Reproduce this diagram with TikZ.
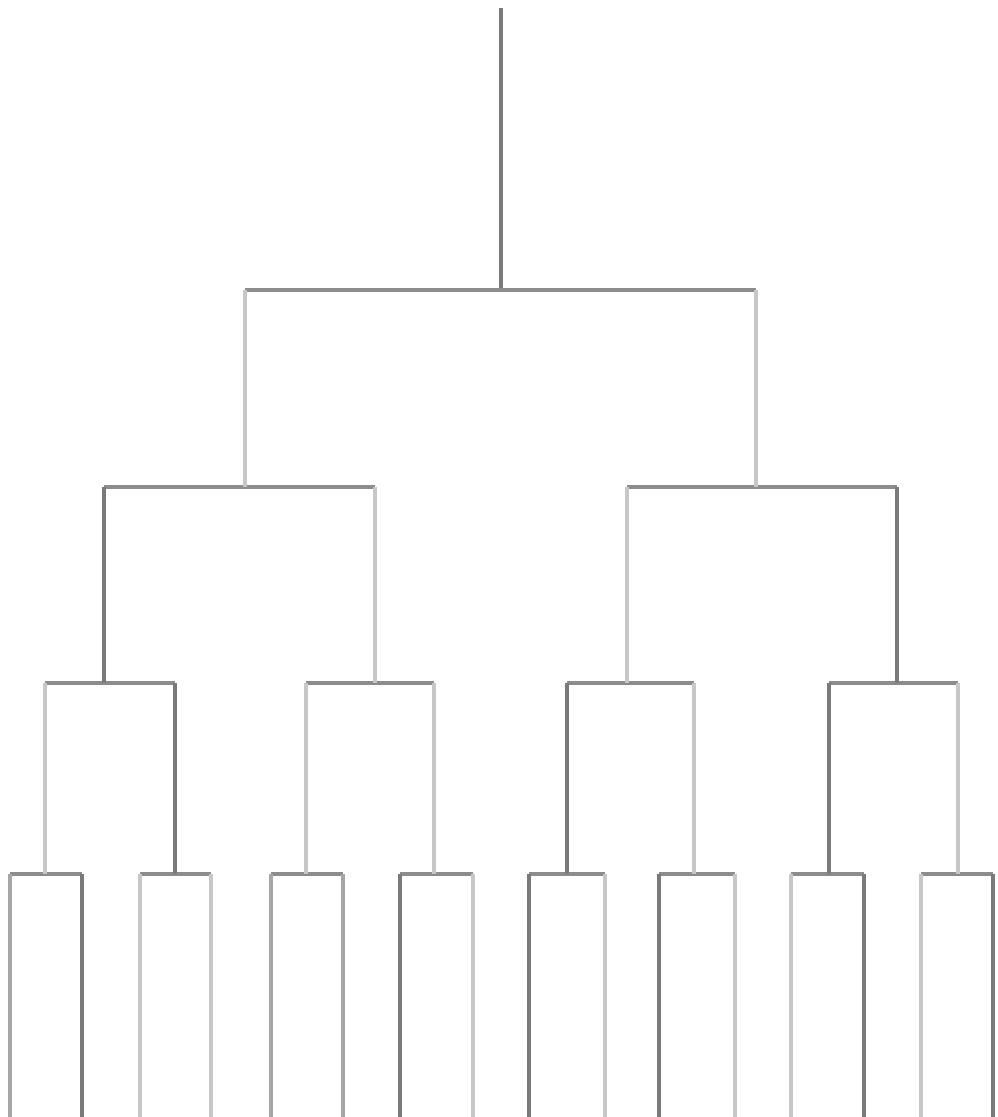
\documentclass[tikz,border=0pt]{standalone}
\usepackage{tikz}
\usetikzlibrary{calc}
\tikzset{
  hbar/.style={draw=black!45, line width=0.9pt},
  dk/.style={draw=black!52, line width=0.9pt},
  md/.style={draw=black!35, line width=0.9pt},
  lt/.style={draw=black!22, line width=0.9pt},
}
\begin{document}
\begin{tikzpicture}[x=0.01cm, y=-0.01cm]
\useasboundingbox (0,0) rectangle (998,1117);

% branch points
\coordinate (top) at (501,8);
\coordinate (r) at (501,290);
\coordinate (a) at (245,487);
\coordinate (b) at (756,487);
\coordinate (aa) at (104,683);
\coordinate (ab) at (375,683);
\coordinate (ba) at (627,683);
\coordinate (bb) at (897,683);
\coordinate (aaa) at (45,874);
\coordinate (aab) at (175,874);
\coordinate (aba) at (306,874);
\coordinate (abb) at (434,874);
\coordinate (baa) at (567,874);
\coordinate (bab) at (694,874);
\coordinate (bba) at (829,874);
\coordinate (bbb) at (958,874);

% leaves, at the bottom edge
\foreach \n/\x in {1/10, 2/82, 3/140, 4/211, 5/271, 6/343, 7/400, 8/473,
                   9/529, 10/605, 11/659, 12/735, 13/791, 14/864, 15/921, 16/993}
  \coordinate (l\n) at (\x,1117);

\draw[dk] (top) -- (r);

% horizontal bars
\foreach \p/\a/\b in {r/a/b, a/aa/ab, b/ba/bb,
                      aa/aaa/aab, ab/aba/abb, ba/baa/bab, bb/bba/bbb,
                      aaa/l1/l2, aab/l3/l4, aba/l5/l6, abb/l7/l8,
                      baa/l9/l10, bab/l11/l12, bba/l13/l14, bbb/l15/l16}
  \draw[hbar] (\a |- \p) -- (\b |- \p);

% vertical drops, each with its own shade
\foreach \c/\p/\s in {a/r/lt, b/r/lt,
                      aa/a/dk, ab/a/lt, ba/b/lt, bb/b/dk,
                      aaa/aa/lt, aab/aa/dk, aba/ab/lt, abb/ab/lt,
                      baa/ba/dk, bab/ba/lt, bba/bb/dk, bbb/bb/lt,
                      l1/aaa/md, l2/aaa/dk, l3/aab/lt, l4/aab/lt,
                      l5/aba/md, l6/aba/md, l7/abb/dk, l8/abb/lt,
                      l9/baa/dk, l10/baa/lt, l11/bab/dk, l12/bab/lt,
                      l13/bba/lt, l14/bba/dk, l15/bbb/lt, l16/bbb/dk}
  \draw[\s] (\c |- \p) -- (\c);

\end{tikzpicture}
\end{document}
